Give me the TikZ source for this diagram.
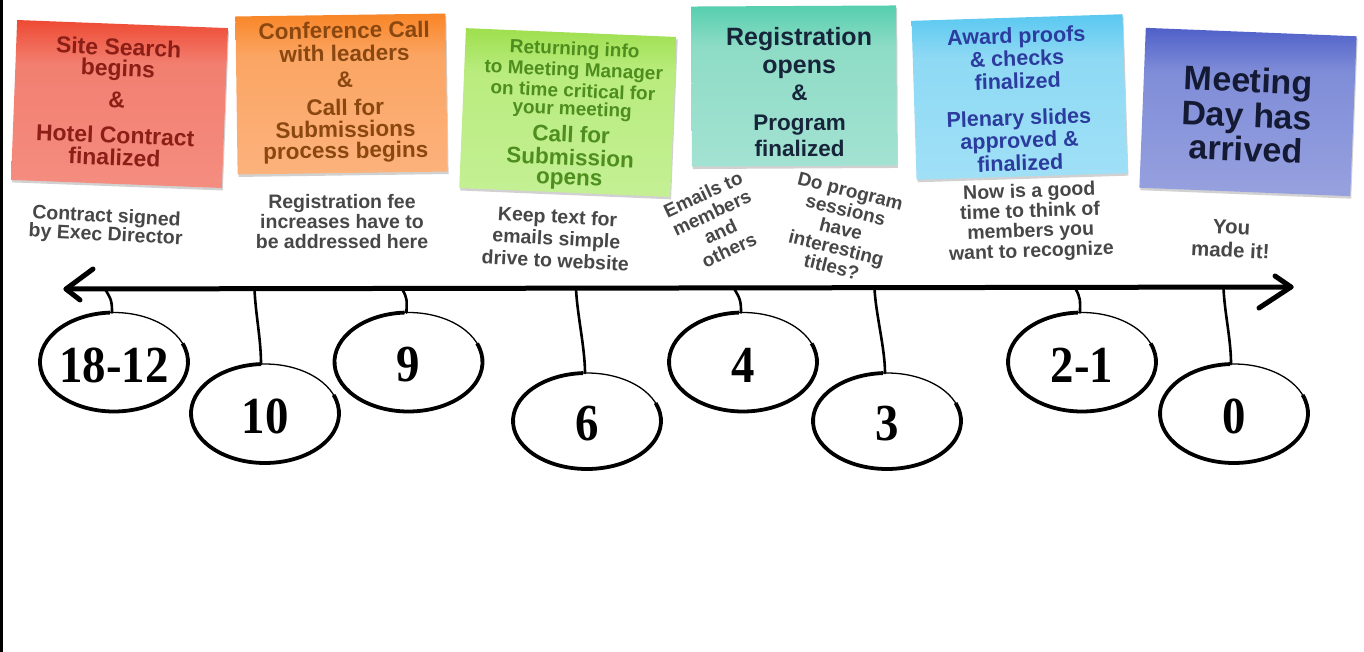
\documentclass[tikz,border=0pt]{standalone}
\usepackage{fontspec}
\setmainfont{Liberation Sans}
\newfontfamily\numfont{Liberation Serif}[FakeStretch=0.9]
\usetikzlibrary{shadows,calc}

\definecolor{redTop}{HTML}{EE4A33}\definecolor{redMid}{HTML}{F27F70}\definecolor{redBot}{HTML}{F48D80}
\definecolor{orTop}{HTML}{F98526}\definecolor{orMid}{HTML}{FBA563}\definecolor{orBot}{HTML}{FCB27C}
\definecolor{grTop}{HTML}{9EDF4E}\definecolor{grMid}{HTML}{B9EC7E}\definecolor{grBot}{HTML}{C4F094}
\definecolor{tlTop}{HTML}{56CFAE}\definecolor{tlMid}{HTML}{8EDCC6}\definecolor{tlBot}{HTML}{A3E2D2}
\definecolor{blTop}{HTML}{5AC8F0}\definecolor{blMid}{HTML}{8ED9F4}\definecolor{blBot}{HTML}{A0E0F7}
\definecolor{puTop}{HTML}{5060C8}\definecolor{puMid}{HTML}{7F8DD8}\definecolor{puBot}{HTML}{97A1DF}
\definecolor{redT}{HTML}{8B1E16}
\definecolor{orT}{HTML}{8A4810}
\definecolor{grT}{HTML}{4E8E1E}
\definecolor{tlT}{HTML}{17253A}
\definecolor{blT}{HTML}{2B3B9E}
\definecolor{puT}{HTML}{141A33}
\definecolor{hintgray}{HTML}{474747}

\newcommand{\declarenoteshade}[4]{%
  \pgfdeclareverticalshading{#1}{100bp}{color(0bp)=(#4); color(25bp)=(#4); color(62bp)=(#3); color(75bp)=(#2); color(100bp)=(#2)}}
\declarenoteshade{shRed}{redTop}{redMid}{redBot}
\declarenoteshade{shOrange}{orTop}{orMid}{orBot}
\declarenoteshade{shGreen}{grTop}{grMid}{grBot}
\declarenoteshade{shTeal}{tlTop}{tlMid}{tlBot}
\declarenoteshade{shBlue}{blTop}{blMid}{blBot}
\declarenoteshade{shPurple}{puTop}{puMid}{puBot}

\newcommand{\fs}[2]{\fontsize{#1}{#2}\selectfont\lineskiplimit=-100pt\relax}
\newcommand{\ring}[2]{%
  \draw[ringthin] ([yshift=3pt]#1.center) ellipse [x radius=74pt, y radius=#2pt];
  \draw[ringthick] ([yshift=3pt]#1.center) ++(93:74pt and #2pt) arc[start angle=93, end angle=382, x radius=74pt, y radius=#2pt];}

\begin{document}
\begin{tikzpicture}[x=1pt,y=-1pt,
  note/.style={rectangle, inner sep=0pt, minimum width=211pt, minimum height=160pt, shade,
    drop shadow={shadow xshift=1pt, shadow yshift=-2.5pt, opacity=0.18, fill=black}},
  notetext/.style={anchor=north, align=center, inner sep=0pt},
  hint/.style={align=center, inner sep=0pt, text=hintgray},
  month/.style={inner sep=0pt, font=\numfont\bfseries\fontsize{52}{52}\selectfont},
  ringthin/.style={line width=1.3pt},
  ringthick/.style={line width=3.8pt},
  stem/.style={line width=2.6pt, line cap=round},
  axis/.style={line width=5pt, line cap=round, line join=round}]

\fill[white] (0,0) rectangle (1364,652);
\useasboundingbox (0,0) rectangle (1364,652);
\draw[line width=3.2pt] (1.6,0) -- (1.6,652);

% sticky notes
\node[note, shading=shRed, rotate=-2.2] (n1) at (119.5,104) {};
\node[notetext, text=redT, font=\bfseries\fs{23}{21}, rotate=-2.2] (t1) at (119,38.5)
  {Site Search\\begins\\[11pt]\&\\[14pt]Hotel Contract\\[1pt]finalized};

\node[note, shading=shOrange, rotate=0.8, minimum width=210pt, minimum height=158pt] (n2) at (341.5,94) {};
\node[notetext, text=orT, font=\bfseries\fs{22.5}{22}, rotate=0.8] (t2) at (344,21.8)
  {Conference Call\\[1pt]with leaders\\[4pt]\&\\[6pt]Call for\\Submissions\\[-1pt]process begins};

\node[note, shading=shGreen, rotate=-2.4] (n3) at (568,112.5) {};
\node[notetext, text=grT, font=\bfseries\fs{19}{21}, rotate=-2.4] (t3) at (575,41.3)
  {Returning info\\to Meeting Manager\\on time critical for\\[-3pt]your meeting\\[6pt]{\fontsize{22.5}{21}\selectfont Call for}\\[2pt]{\fontsize{22.5}{21}\selectfont Submission}\\[-1pt]{\fontsize{22.5}{21}\selectfont opens}};

\node[note, shading=shTeal, rotate=0.3, minimum width=205pt] (n4) at (794,86) {};
\node[notetext, text=tlT, font=\bfseries\fs{22.5}{26}, rotate=0.3] (t4) at (799,27)
  {{\fontsize{25}{26}\selectfont Registration}\\[2pt]{\fontsize{25}{26}\selectfont opens}\\[1pt]\&\\[4pt]Program\\finalized};

\node[note, shading=shBlue, rotate=1.8, minimum height=159pt] (n5) at (1019.5,97) {};
\node[notetext, text=blT, font=\bfseries\fs{21.5}{22.5}, rotate=1.8] (t5) at (1016,27.5)
  {Award proofs\\\& checks\\[0.5pt]finalized\\[14pt]Plenary slides\\approved \&\\[0.5pt]finalized};

\node[note, shading=shPurple, rotate=-2.3] (n6) at (1248,112) {};
\node[notetext, text=puT, font=\bfseries\fs{34}{35}, rotate=-2.3] (t6) at (1249,67.5)
  {Meeting\\Day has\\[-1pt]arrived};

% hints
\node[hint, anchor=north, font=\bfseries\fs{19.5}{18.5}, rotate=-3] (g1) at (107,208) {Contract signed\\by Exec Director};
\node[hint, anchor=north, font=\bfseries\fs{19.5}{20}] (g2) at (342,194) {Registration fee\\increases have to\\be addressed here};
\node[hint, anchor=north, font=\bfseries\fs{19.5}{22}, rotate=-3] (g3) at (558,209) {Keep text for\\emails simple\\drive to website};
\node[hint, font=\bfseries\fs{19}{20.5}, rotate=25] (g4) at (716,222) {Emails to\\members\\and\\others};
\node[hint, font=\bfseries\fs{19}{19.5}, rotate=-14] (g5) at (841,229) {Do program\\sessions\\have\\interesting\\titles?};
\node[hint, anchor=north, font=\bfseries\fs{19.5}{20}, rotate=2] (g6) at (1029,183) {Now is a good\\time to think of\\members you\\want to recognize};
\node[hint, anchor=north, font=\bfseries\fs{20.5}{23}, rotate=-3] (g7) at (1232,220) {You\\made it!};

% timeline
\coordinate (AL) at (66,289);
\coordinate (AR) at (1291,287);
\draw[axis] (AL) -- (AR);
\draw[axis] ($(AL)+(27,-20)$) -- (AL) -- ($(AL)+(14,11)$);
\draw[axis] ($(AR)+(-16,-11)$) -- (AR) -- ($(AR)+(-32,21)$);

\coordinate (s1) at (105,289);
\coordinate (s2) at (254.5,289);
\coordinate (s3) at (402,289);
\coordinate (s4) at (576,288.5);
\coordinate (s5) at (734,288.5);
\coordinate (s6) at (874.5,288);
\coordinate (s7) at (1075,288);
\coordinate (s8) at (1223.5,288);

\node[month] (c1) at (114,365) {18-12};
\node[month] (c2) at (265,416.5) {10};
\node[month] (c3) at (408.5,365) {9};
\node[month] (c4) at (587,424) {6};
\node[month] (c5) at (743,365) {4};
\node[month] (c6) at (887,424) {3};
\node[month] (c7) at (1082,365) {2-1};
\node[month] (c8) at (1234,416.5) {0};

\ring{c1}{49.5}\ring{c2}{49.5}\ring{c3}{49.5}\ring{c4}{48}
\ring{c5}{49.5}\ring{c6}{48}\ring{c7}{49.5}\ring{c8}{49.5}

\draw[stem] (s1) .. controls +(6,10) and +(0,-12) .. ([xshift=-2pt,yshift=52.5pt]c1.center);
\draw[stem] (s2) .. controls +(1,25) and +(0,-25) .. ([xshift=-4pt,yshift=52.5pt]c2.center);
\draw[stem] (s3) .. controls +(6,10) and +(0,-12) .. ([xshift=-2pt,yshift=52.5pt]c3.center);
\draw[stem] (s4) .. controls +(1,25) and +(0,-25) .. ([xshift=-2pt,yshift=51pt]c4.center);
\draw[stem] (s5) .. controls +(6,10) and +(0,-12) .. ([xshift=-2pt,yshift=52.5pt]c5.center);
\draw[stem] (s6) .. controls +(1,25) and +(0,-25) .. ([xshift=-2pt,yshift=51pt]c6.center);
\draw[stem] (s7) .. controls +(6,10) and +(0,-12) .. ([xshift=-2pt,yshift=52.5pt]c7.center);
\draw[stem] (s8) .. controls +(1,25) and +(0,-25) .. ([xshift=-3pt,yshift=52.5pt]c8.center);
\end{tikzpicture}
\end{document}
